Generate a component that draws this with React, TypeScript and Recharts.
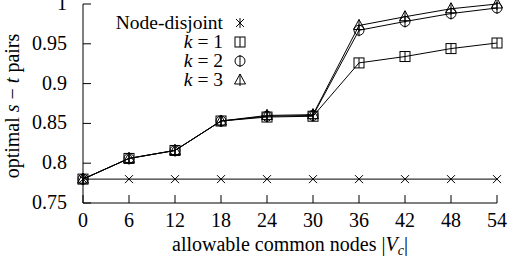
import React from 'react';
import { LineChart, Line, XAxis, YAxis, Customized } from 'recharts';

const xs = [0, 6, 12, 18, 24, 30, 36, 42, 48, 54];
const nodeDisjoint = [0.78, 0.78, 0.78, 0.78, 0.78, 0.78, 0.78, 0.78, 0.78, 0.78];
const k1 = [0.78, 0.806, 0.816, 0.853, 0.858, 0.859, 0.926, 0.934, 0.944, 0.951];
const k2 = [0.78, 0.806, 0.816, 0.853, 0.859, 0.86, 0.967, 0.978, 0.988, 0.995];
const k3 = [0.78, 0.806, 0.816, 0.853, 0.86, 0.861, 0.973, 0.984, 0.994, 1.0];
const yTicks = [0.75, 0.8, 0.85, 0.9, 0.95, 1];

const data = xs.map((x, i) => ({ x, nd: nodeDisjoint[i], k1: k1[i], k2: k2[i], k3: k3[i] }));

const FONT = '"Liberation Serif", "Times New Roman", serif';
const FS = 20;

// gnuplot style inward ticks
const BottomTick = (p: any) => (
  <g>
    <line x1={p.x} y1={p.y} x2={p.x} y2={p.y - 8} stroke="#000" />
    <text x={p.x} y={p.y + 24} textAnchor="middle" fontFamily={FONT} fontSize={FS} fill="#000">
      {p.payload.value}
    </text>
  </g>
);
const TopTick = (p: any) => <line x1={p.x} y1={p.y} x2={p.x} y2={p.y + 8} stroke="#000" />;
const LeftTick = (p: any) => (
  <g>
    <line x1={p.x} y1={p.y} x2={p.x + 8} y2={p.y} stroke="#000" />
    <text x={p.x - 16} y={p.y + 6} textAnchor="end" fontFamily={FONT} fontSize={FS} fill="#000">
      {p.payload.value}
    </text>
  </g>
);
const RightTick = (p: any) => <line x1={p.x} y1={p.y} x2={p.x - 8} y2={p.y} stroke="#000" />;

const Star = ({ cx, cy, vert }: any) => (
  <g stroke="#000" strokeWidth={1} fill="none">
    <line x1={cx - 4} y1={cy - 4} x2={cx + 4} y2={cy + 4} />
    <line x1={cx - 4} y1={cy + 4} x2={cx + 4} y2={cy - 4} />
    {vert && <line x1={cx} y1={cy - 5} x2={cx} y2={cy + 5} />}
  </g>
);
const Box = ({ cx, cy }: any) => (
  <g stroke="#000" strokeWidth={1} fill="none">
    <rect x={cx - 5} y={cy - 5} width={10} height={10} />
    <line x1={cx} y1={cy - 5} x2={cx} y2={cy + 5} />
  </g>
);
const Circ = ({ cx, cy }: any) => (
  <g stroke="#000" strokeWidth={1} fill="none">
    <circle cx={cx} cy={cy} r={5} />
    <line x1={cx} y1={cy - 6} x2={cx} y2={cy + 6} />
  </g>
);
const Tri = ({ cx, cy }: any) => (
  <g stroke="#000" strokeWidth={1} fill="none">
    <path d={`M${cx},${cy - 6} L${cx + 5.5},${cy + 4} L${cx - 5.5},${cy + 4} Z`} />
    <line x1={cx} y1={cy - 6} x2={cx} y2={cy + 6} />
  </g>
);

const legendRows = [
  { label: 'Node-disjoint', Mark: Star },
  { label: '1', Mark: Box },
  { label: '2', Mark: Circ },
  { label: '3', Mark: Tri },
];

const Overlay = () => (
  <g>
    {legendRows.map((r, i) => {
      const y = 23 + i * 19;
      const M = r.Mark;
      return (
        <g key={i}>
          <text x={223} y={y + 6} textAnchor="end" fontFamily={FONT} fontSize={19.5} fill="#000">
            {i === 0 ? (
              r.label
            ) : (
              <>
                <tspan fontStyle="italic">k</tspan>
                <tspan> = {r.label}</tspan>
              </>
            )}
          </text>
          <M cx={240} cy={y} vert />
        </g>
      );
    })}
    <text x={290} y={251} textAnchor="middle" fontFamily={FONT} fontSize={FS} fill="#000">
      allowable common nodes |<tspan fontStyle="italic">V</tspan>
      <tspan fontStyle="italic" fontSize={14} dy={4}>c</tspan>
      <tspan dy={-4}>|</tspan>
    </text>
    <text
      x={0}
      y={0}
      transform="translate(19,106) rotate(-90)"
      textAnchor="middle"
      fontFamily={FONT}
      fontSize={FS}
      fill="#000"
    >
      optimal <tspan fontStyle="italic">s</tspan> − <tspan fontStyle="italic">t</tspan> pairs
    </text>
  </g>
);

export default function App() {
  return (
    <div style={{ position: 'absolute', left: 0, top: 0, background: '#fff' }}>
      <LineChart width={514} height={258} data={data} margin={{ top: 4, right: 17, bottom: 0, left: 0 }}>
        <XAxis
          dataKey="x"
          type="number"
          domain={[0, 54]}
          ticks={xs}
          interval={0}
          height={55}
          tickSize={0}
          tickMargin={0}
          tickLine={false}
          axisLine={{ stroke: '#000' }}
          tick={<BottomTick />}
        />
        <XAxis
          xAxisId="top"
          orientation="top"
          dataKey="x"
          type="number"
          domain={[0, 54]}
          ticks={xs}
          interval={0}
          height={0}
          tickSize={0}
          tickMargin={0}
          tickLine={false}
          axisLine={{ stroke: '#000' }}
          tick={<TopTick />}
        />
        <YAxis
          type="number"
          domain={[0.75, 1]}
          ticks={yTicks}
          interval={0}
          width={83}
          tickSize={0}
          tickMargin={0}
          tickLine={false}
          axisLine={{ stroke: '#000' }}
          tick={<LeftTick />}
        />
        <YAxis
          yAxisId="right"
          orientation="right"
          type="number"
          domain={[0.75, 1]}
          ticks={yTicks}
          interval={0}
          width={0}
          tickSize={0}
          tickMargin={0}
          tickLine={false}
          axisLine={{ stroke: '#000' }}
          tick={<RightTick />}
        />
        <Line
          dataKey="nd"
          stroke="#000"
          strokeWidth={1}
          isAnimationActive={false}
          dot={(p: any) => <Star key={`nd-${p.index}`} cx={p.cx} cy={p.cy} />}
        />
        <Line
          dataKey="k1"
          stroke="#000"
          strokeWidth={1}
          isAnimationActive={false}
          dot={(p: any) => <Box key={`k1-${p.index}`} cx={p.cx} cy={p.cy} />}
        />
        <Line
          dataKey="k2"
          stroke="#000"
          strokeWidth={1}
          isAnimationActive={false}
          dot={(p: any) => <Circ key={`k2-${p.index}`} cx={p.cx} cy={p.cy} />}
        />
        <Line
          dataKey="k3"
          stroke="#000"
          strokeWidth={1}
          isAnimationActive={false}
          dot={(p: any) => <Tri key={`k3-${p.index}`} cx={p.cx} cy={p.cy} />}
        />
        <Customized component={Overlay} />
      </LineChart>
    </div>
  );
}
